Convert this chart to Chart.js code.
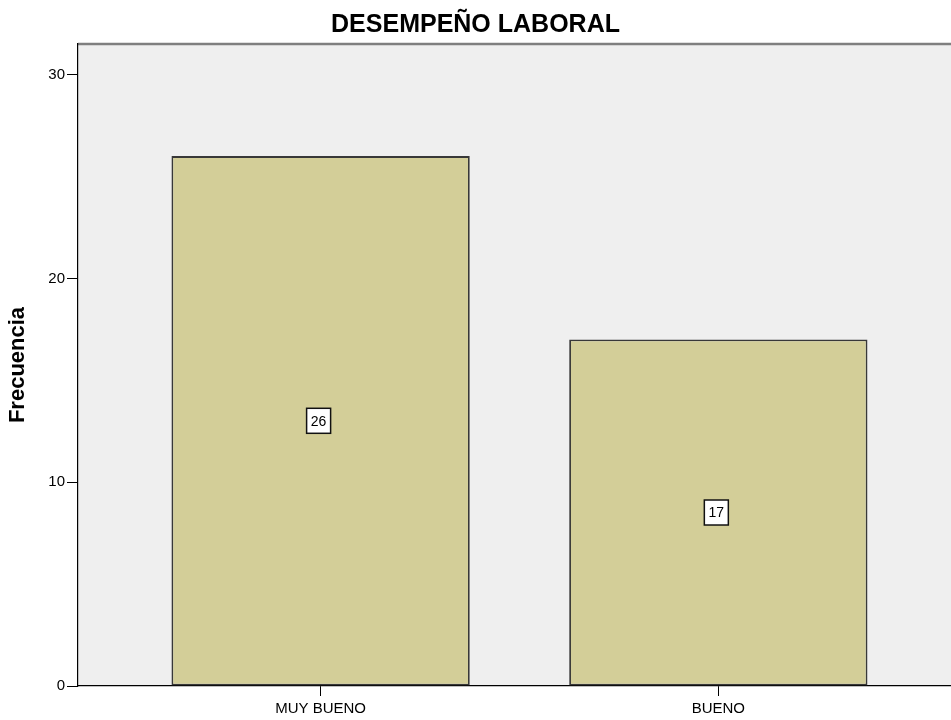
<!DOCTYPE html>
<html lang="es">
<head>
<meta charset="utf-8">
<title>DESEMPEÑO LABORAL</title>
<script src="https://cdn.jsdelivr.net/npm/chart.js@4.4.1/dist/chart.umd.min.js"></script>
<style>
  html, body { margin: 0; padding: 0; background: #ffffff; overflow: hidden; }
  #wrap { position: relative; width: 951px; height: 720px; }
</style>
</head>
<body>
<div id="wrap"><canvas id="chart"></canvas></div>
<script>
// Frequency counts per performance rating
const categories = ['MUY BUENO', 'BUENO'];
const frequencies = [26, 17];
const yTickValues = [0, 10, 20, 30];

const FONT = '"Liberation Sans", Arial, Helvetica, sans-serif';

// Grey plot panel with a soft top rule
const panelPlugin = {
  id: 'panel',
  beforeDraw(chart) {
    const { ctx, chartArea: { left, top, right, bottom } } = chart;
    ctx.save();
    ctx.fillStyle = '#ffffff';
    ctx.fillRect(0, 0, chart.width, chart.height);
    ctx.fillStyle = '#efefef';
    ctx.fillRect(left, top, right - left, bottom - top);
    ctx.strokeStyle = '#7f7f7f';
    ctx.lineWidth = 2.5;
    ctx.beginPath();
    ctx.moveTo(left, top);
    ctx.lineTo(right, top);
    ctx.stroke();
    ctx.restore();
  }
};

// Boxed count label in the middle of each bar
const countLabelPlugin = {
  id: 'countLabels',
  afterDatasetsDraw(chart) {
    const { ctx } = chart;
    const meta = chart.getDatasetMeta(0);
    ctx.save();
    ctx.font = '14px ' + FONT;
    ctx.textAlign = 'center';
    ctx.textBaseline = 'middle';
    meta.data.forEach((bar, i) => {
      const value = frequencies[i];
      const cx = bar.x - 2;
      const cy = (bar.y + bar.base) / 2;
      const w = 24, h = 25;
      ctx.fillStyle = '#ffffff';
      ctx.fillRect(cx - w / 2, cy - h / 2, w, h);
      ctx.strokeStyle = '#111111';
      ctx.lineWidth = 1.5;
      ctx.strokeRect(cx - w / 2, cy - h / 2, w, h);
      ctx.fillStyle = '#000000';
      ctx.fillText(String(value), cx, cy + 1);
    });
    ctx.restore();
  }
};

new Chart(document.getElementById('chart'), {
  type: 'bar',
  data: {
    datasets: [{
      data: frequencies.map((v, i) => ({ x: i + 1, y: v })),
      backgroundColor: '#d3ce98',
      borderColor: '#383838',
      borderWidth: 1.8,
      borderSkipped: false,
      categoryPercentage: 1,
      barPercentage: 0.75
    }]
  },
  options: {
    responsive: true,
    maintainAspectRatio: false,
    animation: false,
    layout: { padding: 0 },
    plugins: {
      legend: { display: false },
      tooltip: { enabled: false },
      title: {
        display: true,
        text: 'DESEMPEÑO LABORAL',
        color: '#000000',
        font: { family: FONT, size: 25, weight: 'bold', lineHeight: 1.2 },
        padding: { top: 10, bottom: 4 }
      }
    },
    scales: {
      x: {
        type: 'linear',
        offset: false,
        min: 0.39,
        max: 2.585,
        afterBuildTicks(scale) {
          scale.ticks = categories.map((_, i) => ({ value: i + 1 }));
        },
        afterFit(scale) { scale.height = 34; },
        ticks: {
          color: '#000000',
          font: { family: FONT, size: 15 },
          padding: 4,
          maxRotation: 0,
          autoSkip: false,
          callback: (value) => categories[value - 1] ?? ''
        },
        grid: {
          offset: false,
          drawOnChartArea: false,
          drawTicks: true,
          tickLength: 10,
          color: '#000000',
          lineWidth: 1
        },
        border: { display: true, color: '#000000', width: 1.2 }
      },
      y: {
        min: 0,
        max: 31.5,
        afterBuildTicks(scale) {
          scale.ticks = yTickValues.map(v => ({ value: v }));
        },
        afterFit(scale) { scale.width = 78; },
        ticks: {
          color: '#000000',
          font: { family: FONT, size: 15 },
          padding: 2
        },
        grid: {
          drawOnChartArea: false,
          drawTicks: true,
          tickLength: 11,
          color: '#000000',
          lineWidth: 1
        },
        border: { display: true, color: '#000000', width: 1.2 },
        title: {
          display: true,
          text: 'Frecuencia',
          color: '#000000',
          font: { family: FONT, size: 22, weight: 'bold', lineHeight: 1.2 },
          padding: { top: 5, bottom: 0 }
        }
      }
    }
  },
  plugins: [panelPlugin, countLabelPlugin]
});
</script>
</body>
</html>
